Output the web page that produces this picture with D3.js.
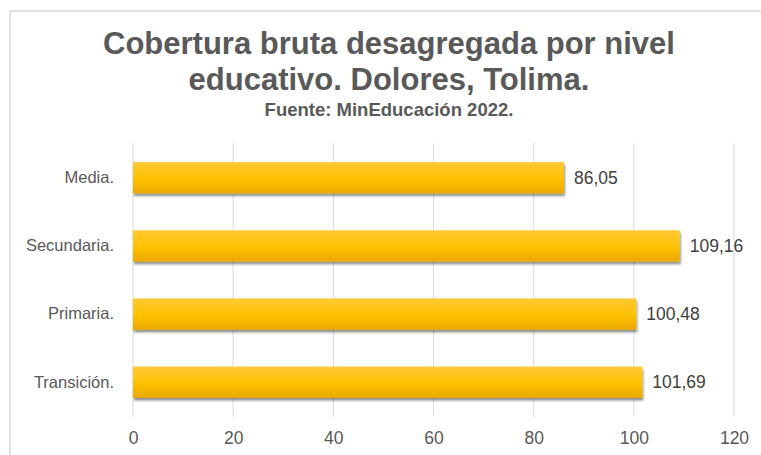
<!DOCTYPE html>
<html>
<head>
<meta charset="utf-8">
<script src="https://cdn.jsdelivr.net/npm/d3@7.9.0/dist/d3.min.js"></script>
<style>
  html, body { margin: 0; padding: 0; background: #fff; }
  svg { display: block; font-family: "Liberation Sans", Arial, sans-serif; }
</style>
</head>
<body>
<div id="chart"></div>
<script>
"use strict";

// Data
const TITLE_LINES = ["Cobertura bruta desagregada por nivel", "educativo. Dolores, Tolima."];
const SUBTITLE = "Fuente: MinEducación 2022.";
const CATEGORIES = ["Media.", "Secundaria.", "Primaria.", "Transición."];
const VALUES = [86.05, 109.16, 100.48, 101.69];
const X_TICKS = [0, 20, 40, 60, 80, 100, 120];

const W = 761, H = 455;
const margin = { top: 143, right: 27, bottom: 38, left: 133 };

const svg = d3.select("#chart").append("svg")
    .attr("width", W)
    .attr("height", H);

// Gradient + shadow for the bars
const defs = svg.append("defs");
const grad = defs.append("linearGradient")
    .attr("id", "barGrad")
    .attr("x1", 0).attr("y1", 0).attr("x2", 0).attr("y2", 1);
grad.append("stop").attr("offset", "0%").attr("stop-color", "#ffc936");
grad.append("stop").attr("offset", "55%").attr("stop-color", "#ffc000");
grad.append("stop").attr("offset", "100%").attr("stop-color", "#e9a900");

const shadow = defs.append("filter")
    .attr("id", "shadow")
    .attr("x", "-5%").attr("y", "-20%")
    .attr("width", "110%").attr("height", "150%");
shadow.append("feDropShadow")
    .attr("dx", 1).attr("dy", 2.5)
    .attr("stdDeviation", 1.3)
    .attr("flood-color", "#000")
    .attr("flood-opacity", 0.45);

// Frame
svg.append("path")
    .attr("d", `M10,${H} V11 H${W}`)
    .attr("fill", "none")
    .attr("stroke", "#d9d9d9")
    .attr("stroke-width", 1.5);

// Title
svg.selectAll(".title")
    .data(TITLE_LINES)
    .join("text")
    .attr("class", "title")
    .attr("x", 389)
    .attr("y", (d, i) => 54 + i * 36)
    .attr("text-anchor", "middle")
    .attr("font-size", 31)
    .attr("font-weight", "bold")
    .attr("fill", "#595959")
    .text(d => d);

svg.append("text")
    .attr("x", 389)
    .attr("y", 116)
    .attr("text-anchor", "middle")
    .attr("font-size", 18.5)
    .attr("font-weight", "bold")
    .attr("fill", "#595959")
    .text(SUBTITLE);

// Scales
const x = d3.scaleLinear()
    .domain([0, 120])
    .range([margin.left, W - margin.right]);

const y = d3.scaleBand()
    .domain(CATEGORIES)
    .range([margin.top, H - margin.bottom])
    .paddingInner(0.54)
    .paddingOuter(0.28);

// Gridlines
svg.append("g")
    .selectAll("line")
    .data(X_TICKS)
    .join("line")
    .attr("x1", d => x(d)).attr("x2", d => x(d))
    .attr("y1", margin.top).attr("y2", H - margin.bottom)
    .attr("stroke", "#d9d9d9")
    .attr("stroke-width", 1);

// X axis labels
const xAxis = svg.append("g")
    .attr("transform", `translate(0, ${H - margin.bottom})`)
    .call(d3.axisBottom(x).tickValues(X_TICKS).tickSize(0).tickPadding(15));
xAxis.select(".domain").remove();
xAxis.selectAll("text")
    .attr("font-family", "'Liberation Sans', Arial, sans-serif")
    .attr("font-size", 17.5)
    .attr("fill", "#595959");

// Y axis labels
const yAxis = svg.append("g")
    .attr("transform", `translate(${margin.left}, 0)`)
    .call(d3.axisLeft(y).tickSize(0).tickPadding(19));
yAxis.select(".domain").remove();
yAxis.selectAll("text")
    .attr("font-family", "'Liberation Sans', Arial, sans-serif")
    .attr("font-size", 16.5)
    .attr("fill", "#595959");

// Bars
svg.append("g")
    .selectAll("rect")
    .data(VALUES)
    .join("rect")
    .attr("x", x(0))
    .attr("y", (d, i) => y(CATEGORIES[i]))
    .attr("width", d => x(d) - x(0))
    .attr("height", y.bandwidth())
    .attr("fill", "url(#barGrad)")
    .attr("filter", "url(#shadow)");

// Value labels
svg.append("g")
    .selectAll("text")
    .data(VALUES)
    .join("text")
    .attr("x", d => x(d) + 10)
    .attr("y", (d, i) => y(CATEGORIES[i]) + y.bandwidth() / 2)
    .attr("dy", "0.35em")
    .attr("font-size", 17.5)
    .attr("fill", "#404040")
    .text(d => d.toFixed(2).replace(".", ","));
</script>
</body>
</html>
